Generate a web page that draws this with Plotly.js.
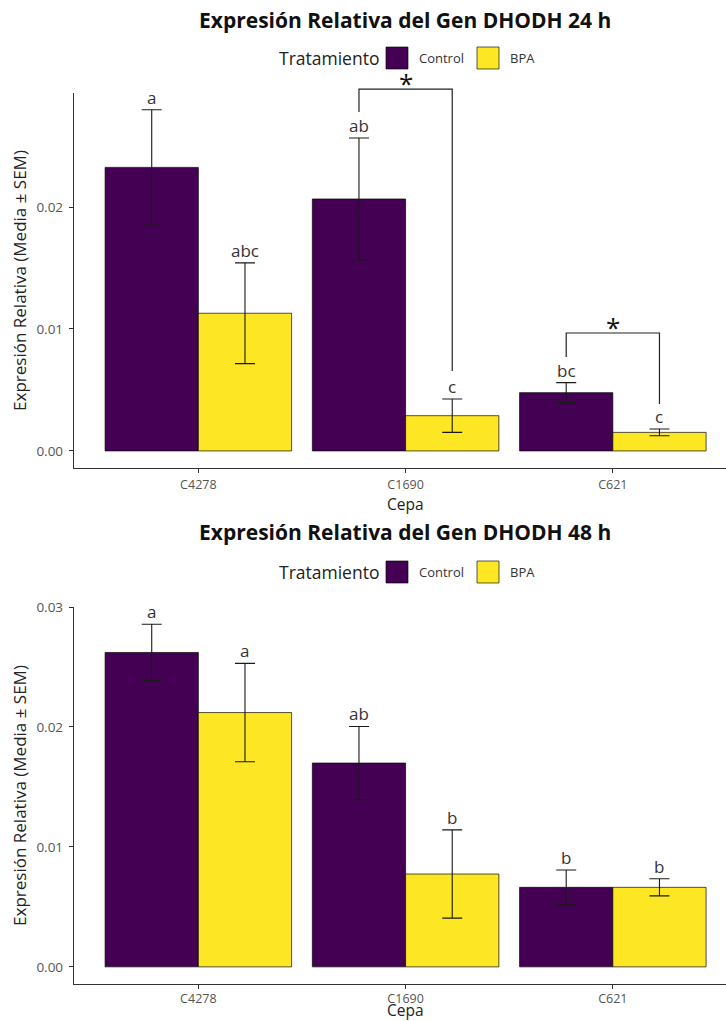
<!DOCTYPE html>
<html><head><meta charset="utf-8">
<script src="https://cdn.plot.ly/plotly-3.0.1.min.js"></script>
<style>
html,body{margin:0;padding:0;background:#fff;overflow:hidden;width:726px;height:1021px}
#chart{position:absolute;left:0;top:0;width:726px;height:1021px}
</style></head><body>
<div id="chart"></div>
<script>
// ---------- data ----------
const cepas = ['C4278', 'C1690', 'C621'];
const tratamientos = ['Control', 'BPA'];
const colores = ['#440154', '#FDE725'];

const media24Control = [0.02325, 0.02066, 0.00478];
const sem24Control   = [0.00473, 0.00500, 0.00082];
const media24BPA     = [0.01129, 0.00289, 0.00152];
const sem24BPA       = [0.00413, 0.00137, 0.00028];
const letras24Control = ['a', 'ab', 'bc'];
const letras24BPA     = ['abc', 'c', 'c'];

const media48Control = [0.02621, 0.01699, 0.00663];
const sem48Control   = [0.00235, 0.00305, 0.00145];
const media48BPA     = [0.02120, 0.00774, 0.00663];
const sem48BPA       = [0.00410, 0.00368, 0.00071];
const letras48Control = ['a', 'ab', 'b'];
const letras48BPA     = ['a', 'b', 'b'];

// significance brackets (24 h): cepa index, bracket height, left / right leg ends
const sig24Cepa     = [1, 2];
const sig24Altura   = [0.02967, 0.00967];
const sig24PataIzq  = [0.02779, 0.00770];
const sig24PataDer  = [0.00656, 0.00385];
const sig24Etiqueta = ['*', '*'];

const yRange24 = [-0.0014, 0.02935];
const yRange48 = [-0.001428, 0.03];

// ---------- layout helpers ----------
const FONT = 'Open Sans, Noto Sans, sans-serif';
const W = 726, H = 1021;
const PLOT_L = 74, PLOT_W = W - PLOT_L;
const BARW = 0.45;            // each bar = (1 - bargap) / 2
const XR = [-0.6, 2.546];
const xs = cepas.map((c, i) => i);
const pxX = px => (px - PLOT_L) / PLOT_W;
const pxY = py => (H - py) / H;

const traces = [], annotations = [], shapes = [];

function panel(idx, titulo, medias, sems, letras, yRange, sig, geo) {
  const xa = idx === 1 ? 'x' : 'x2', ya = idx === 1 ? 'y' : 'y2';
  const dom = [pxY(geo.bottom), pxY(geo.top)];
  const yPaper = v => dom[0] + (v - yRange[0]) / (yRange[1] - yRange[0]) * (dom[1] - dom[0]);
  const off = [-BARW / 2, BARW / 2];

  medias.forEach((m, k) => traces.push({
    type: 'bar', name: tratamientos[k], x: xs, y: m, xaxis: xa, yaxis: ya, showlegend: false,
    offsetgroup: String(k),
    marker: {color: colores[k], line: {color: 'rgba(0,0,0,0.85)', width: 0.8}},
    error_y: {type: 'data', array: sems[k], visible: true, color: '#1a1a1a', thickness: 1.1, width: 10},
    hoverinfo: 'skip'
  }));
  medias.forEach((m, k) => m.forEach((v, i) => {
    annotations.push({x: i + off[k], y: v + sems[k][i], text: letras[k][i], showarrow: false,
      xref: xa, yref: ya, yanchor: 'bottom', yshift: -1,
      font: {family: FONT, size: 17, color: '#333'}});
  }));
  if (sig) {
    sig.cepa.forEach((ci, j) => {
      const x0 = ci + off[0], x1 = ci + off[1];
      shapes.push({type: 'path', xref: xa, yref: 'paper', layer: 'above',
        path: 'M' + x0 + ',' + yPaper(sig.izq[j]) + ' L' + x0 + ',' + yPaper(sig.alt[j]) +
              ' L' + x1 + ',' + yPaper(sig.alt[j]) + ' L' + x1 + ',' + yPaper(sig.der[j]),
        line: {color: '#222', width: 1.2}});
      annotations.push({x: ci, y: yPaper(sig.alt[j]), text: sig.etq[j], showarrow: false,
        xref: xa, yref: 'paper', yanchor: 'bottom', yshift: -14,
        font: {family: FONT, size: 26, color: '#111'}});
    });
  }
  // title
  annotations.push({xref: 'paper', yref: 'paper', x: 0.5077, y: pxY(geo.ty), xanchor: 'center', yanchor: 'middle',
    text: '<b>' + titulo + '</b>', showarrow: false, font: {family: FONT, size: 21, color: '#111'}});
  // legend (built from tratamientos / colores)
  annotations.push({xref: 'paper', yref: 'paper', x: pxX(381), y: pxY(geo.ly), xanchor: 'right', yanchor: 'middle',
    text: 'Tratamiento', showarrow: false, font: {family: FONT, size: 17.5, color: '#222'}});
  const legSw = [386, 477], legTxt = [417, 508], SW = 22;
  tratamientos.forEach((t, k) => {
    shapes.push({type: 'rect', xref: 'paper', yref: 'paper',
      x0: pxX(legSw[k]), x1: pxX(legSw[k] + SW), y0: pxY(geo.ly + SW / 2), y1: pxY(geo.ly - SW / 2),
      fillcolor: colores[k], line: {color: 'rgba(0,0,0,0.8)', width: 0.8}});
    annotations.push({xref: 'paper', yref: 'paper', x: pxX(legTxt[k]), y: pxY(geo.ly), xanchor: 'left', yanchor: 'middle',
      text: t, showarrow: false, font: {family: FONT, size: 13, color: '#333'}});
  });
  // x axis title
  annotations.push({xref: 'paper', yref: 'paper', x: 0.5077, y: pxY(geo.xt), xanchor: 'center', yanchor: 'middle',
    text: 'Cepa', showarrow: false, font: {family: FONT, size: 15.5, color: '#222'}});

  const axX = {type: 'linear', range: XR, tickvals: xs, ticktext: cepas, anchor: ya,
    showline: true, linecolor: '#333', linewidth: 1.2, ticks: 'outside', ticklen: 4, tickcolor: '#333',
    tickwidth: 1, tickfont: {family: FONT, size: 12.5, color: '#555'}, ticklabelstandoff: geo.tls,
    showgrid: false, zeroline: false, fixedrange: true};
  const axY = {range: yRange, domain: dom, anchor: xa, tick0: 0, dtick: 0.01, tickformat: '.2f',
    showline: true, linecolor: '#333', linewidth: 1.2, ticks: 'outside', ticklen: 4, tickcolor: '#333',
    tickwidth: 1, tickfont: {family: FONT, size: 13.5, color: '#555'}, ticklabelstandoff: 3,
    showgrid: false, zeroline: false, fixedrange: true,
    title: {text: 'Expresión Relativa (Media ± SEM)', font: {family: FONT, size: 17, color: '#222'}, standoff: 5}};
  return {axX, axY};
}

const p1 = panel(1, 'Expresión Relativa del Gen DHODH 24 h',
  [media24Control, media24BPA], [sem24Control, sem24BPA], [letras24Control, letras24BPA], yRange24,
  {cepa: sig24Cepa, alt: sig24Altura, izq: sig24PataIzq, der: sig24PataDer, etq: sig24Etiqueta},
  {top: 93, bottom: 468, ty: 20, ly: 58, xt: 504, tls: 1});
const p2 = panel(2, 'Expresión Relativa del Gen DHODH 48 h',
  [media48Control, media48BPA], [sem48Control, sem48BPA], [letras48Control, letras48BPA], yRange48,
  null,
  {top: 607, bottom: 984, ty: 532, ly: 572, xt: 1010, tls: -1});

const layout = {
  width: W, height: H,
  margin: {l: PLOT_L, r: 0, t: 0, b: 0, pad: 0},
  paper_bgcolor: '#fff', plot_bgcolor: '#fff',
  font: {family: FONT, color: '#222'},
  barmode: 'group', bargap: 0.1, bargroupgap: 0,
  showlegend: false,
  xaxis: p1.axX, yaxis: p1.axY, xaxis2: p2.axX, yaxis2: p2.axY,
  annotations: annotations, shapes: shapes
};
Plotly.newPlot('chart', traces, layout, {staticPlot: true, displayModeBar: false});
</script>
</body></html>
